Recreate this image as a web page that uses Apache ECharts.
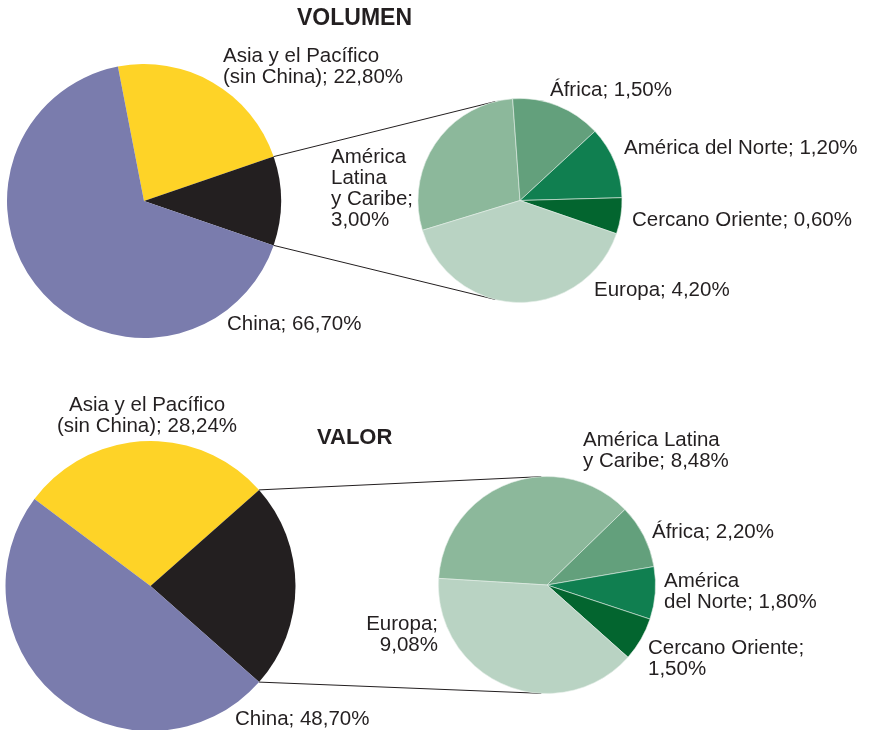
<!DOCTYPE html>
<html>
<head>
	<meta charset="utf-8">
	<title>Volumen y valor</title>
	<style type="text/css">
		html,body{
			margin: 0;
			padding: 0;
			background: #fff;
		}
		#main{
			width: 870px;
			height: 730px;
		}
	</style>
</head>
<body>
<div id="main"></div>

<script src="https://cdn.jsdelivr.net/npm/echarts@6/dist/echarts.min.js"></script>
<script>
    // pie principal: Asia, resto del mundo, China
    var mainNames = ['Asia y el Pacífico (sin China)', 'Resto del mundo', 'China'];
    var volMain = [22.80, 10.50, 66.70];
    var valMain = [28.24, 23.06, 48.70];

    // pie de detalle (resto del mundo)
    var restNames = ['América Latina y Caribe', 'África', 'América del Norte', 'Cercano Oriente', 'Europa'];
    var volRest = [3.00, 1.50, 1.20, 0.60, 4.20];
    var valRest = [8.48, 2.20, 1.80, 1.50, 9.08];

    // textos de etiqueta ({v} = valor)
    var volMainLabels = ['Asia y el Pacífico\n(sin China); {v}', '', 'China; {v}'];
    var valMainLabels = ['Asia y el Pacífico\n(sin China); {v}', '', 'China; {v}'];
    var volRestLabels = ['América\nLatina\ny Caribe;\n{v}', 'África; {v}', 'América del Norte; {v}', 'Cercano Oriente; {v}', 'Europa; {v}'];
    var valRestLabels = ['América Latina\ny Caribe; {v}', 'África; {v}', 'América\ndel Norte; {v}', 'Cercano Oriente;\n{v}', 'Europa;\n{v}'];

    var mainColors = ['#fed327', '#231f20', '#7a7cad'];
    var restColors = ['#8cb89b', '#63a07c', '#107f50', '#03652f', '#b9d3c3'];

    // posiciones de etiquetas [x, y centro, align]
    var volMainPos = [[223, 67, 'left'], null, [227, 324, 'left']];
    var volRestPos = [[331, 189, 'left'], [550, 90, 'left'], [624, 148, 'left'], [632, 220, 'left'], [594, 290, 'left']];
    var valMainPos = [[147, 416, 'center'], null, [235, 719, 'left']];
    var valRestPos = [[583, 451, 'left'], [652, 532, 'left'], [664, 592, 'left'], [648, 659, 'left'], [438, 635, 'right']];

    var textColor = '#231f20';
    var fontFamily = '"Liberation Sans", Arial, sans-serif';

    function fmt(v) {
        return v.toFixed(2).replace('.', ',') + '%';
    }

    function sum(arr) {
        var s = 0;
        for (var i = 0; i < arr.length; i++) s += arr[i];
        return s;
    }

    function buildData(names, values, labels, colors) {
        var data = [];
        for (var i = 0; i < values.length; i++) {
            data.push({
                name: names[i],
                value: values[i],
                itemStyle: { color: colors[i] },
                label: { show: labels[i] !== '', formatter: labels[i].replace('{v}', fmt(values[i])) }
            });
        }
        return data;
    }

    function pieSeries(center, radius, startAngle, data, pos, border) {
        return {
            type: 'pie',
            center: center,
            radius: radius,
            startAngle: startAngle,
            clockwise: true,
            avoidLabelOverlap: false,
            silent: true,
            animation: false,
            itemStyle: { borderWidth: border, borderColor: '#e4eee7' },
            label: {
                position: 'outside',
                color: textColor,
                fontFamily: fontFamily,
                fontSize: 20.5,
                lineHeight: 21
            },
            labelLine: { show: false },
            labelLayout: function (p) {
                var q = pos[p.dataIndex];
                if (!q) return {};
                return { x: q[0], y: q[1], align: q[2], verticalAlign: 'middle' };
            },
            data: data
        };
    }

    // geometría
    var volCenter = [144, 201], volR = 137;
    var volRestCenter = [520, 200.5], volRestR = 102, volRestStart = 197, volLinkAng = 104;
    var valCenter = [150.5, 586], valR = 145;
    var valRestCenter = [547, 585], valRestR = 108.5, valRestStart = 176.5, valLinkAng = 93;

    // el sector "resto" queda centrado a la derecha (0 grados)
    var volHalf = volMain[1] / sum(volMain) * 180;
    var valHalf = valMain[1] / sum(valMain) * 180;
    var volStart = volHalf + volMain[0] / sum(volMain) * 360;
    var valStart = valHalf + valMain[0] / sum(valMain) * 360;

    function pt(c, r, deg) {
        var a = deg * Math.PI / 180;
        return [c[0] + r * Math.cos(a), c[1] - r * Math.sin(a)];
    }

    function link(c1, r1, a1, c2, r2, a2) {
        var p1 = pt(c1, r1, a1), p2 = pt(c2, r2, a2);
        return {
            type: 'line',
            silent: true,
            shape: { x1: p1[0], y1: p1[1], x2: p2[0], y2: p2[1] },
            style: { stroke: '#231f20', lineWidth: 1 }
        };
    }

    var myChart = echarts.init(document.getElementById('main'), null, { renderer: 'canvas' });

    var option = {
        backgroundColor: '#fff',
        animation: false,
        title: [
            {
                text: 'VOLUMEN',
                left: 297, top: 7, padding: 0,
                textStyle: { fontFamily: fontFamily, fontWeight: 'bold', fontSize: 23, color: textColor }
            },
            {
                text: 'VALOR',
                left: 317, top: 427, padding: 0,
                textStyle: { fontFamily: fontFamily, fontWeight: 'bold', fontSize: 22, color: textColor }
            }
        ],
        graphic: [
            link(volCenter, volR, volHalf, volRestCenter, volRestR, volLinkAng),
            link(volCenter, volR, -volHalf, volRestCenter, volRestR, -volLinkAng),
            link(valCenter, valR, valHalf, valRestCenter, valRestR, valLinkAng),
            link(valCenter, valR, -valHalf, valRestCenter, valRestR, -valLinkAng)
        ],
        series: [
            pieSeries(volCenter, volR, volStart, buildData(mainNames, volMain, volMainLabels, mainColors), volMainPos, 0),
            pieSeries(volRestCenter, volRestR, volRestStart, buildData(restNames, volRest, volRestLabels, restColors), volRestPos, 0.6),
            pieSeries(valCenter, valR, valStart, buildData(mainNames, valMain, valMainLabels, mainColors), valMainPos, 0),
            pieSeries(valRestCenter, valRestR, valRestStart, buildData(restNames, valRest, valRestLabels, restColors), valRestPos, 0.6)
        ]
    };

    myChart.setOption(option);
</script>

</body>
</html>
